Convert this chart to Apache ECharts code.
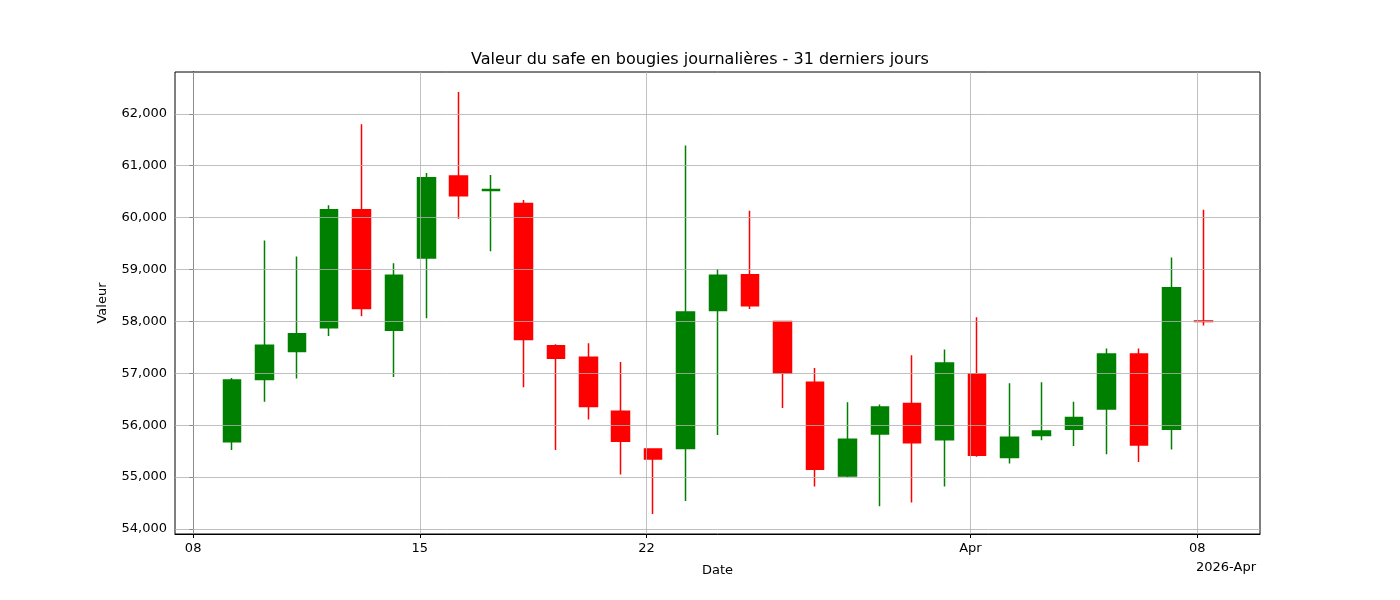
<!DOCTYPE html>
<html>
<head>
<meta charset="utf-8">
<script src="https://cdn.jsdelivr.net/npm/echarts@6/dist/echarts.min.js"></script>
<style>html,body{margin:0;background:#fff}</style>
</head>
<body>
<div id="chart" style="width:1400px;height:600px"></div>
<script>
// day offset from 2026-03-08 (candles sit ~0.2 day after midnight)
const days = [1,2,3,4,5,6,7,8,9,10,11,12,13,14,15,16,17,18,19,20,21,22,23,24,25,26,27,28,29,30,31];
const opens  = [55680,56880,57420,57880,60150,57830,59220,60800,60520,60270,57530,57310,56270,55540,55550,58210,58900,58000,56830,55020,55830,56420,55720,56990,55380,55800,55920,56310,57370,55920,58010];
const closes = [56870,57540,57760,60150,58250,58890,60770,60420,60540,57650,57290,56360,55690,55350,58180,58890,58300,57000,55150,55730,56350,55660,57200,55420,55770,55890,56150,57370,55620,58650,58000];
const highs  = [56910,59560,59250,60240,61800,59120,60860,62420,60820,60340,57560,57580,57220,55540,61390,59010,60130,58000,57100,56440,56400,57350,57460,58080,56810,56830,56450,57480,57480,59230,60150];
const lows   = [55520,56450,56900,57720,58100,56930,58060,59980,59350,56730,55520,56110,55050,54290,54540,55810,58240,56330,54820,55000,54440,54510,54820,55390,55260,55710,55600,55440,55290,55530,57920];
const xTicks = [0, 7, 14, 24, 31];
const xTickLabels = ['08', '15', '22', 'Apr', '08'];
const yTicks = [54000,55000,56000,57000,58000,59000,60000,61000,62000];

const candles = days.map((d, i) => [d + 0.2, opens[i], closes[i], lows[i], highs[i]]);
const gridLines = xTicks.map(v => ({ xAxis: v })).concat(yTicks.map(v => ({ yAxis: v })));

const chart = echarts.init(document.getElementById('chart'));
chart.setOption({
  animation: false,
  textStyle: { fontFamily: 'DejaVu Sans' },
  title: { text: 'Valeur du safe en bougies journalières - 31 derniers jours', left: 'center', top: 47,
    textStyle: { fontSize: 16, fontWeight: 'normal', color: '#000' } },
  grid: { left: 175, right: 140, top: 72, bottom: 66, show: true, borderColor: '#000', borderWidth: 1 },
  xAxis: {
    type: 'value', min: -0.56, max: 32.94, name: 'Date', nameLocation: 'middle', nameGap: 30,
    nameTextStyle: { fontSize: 13, color: '#000' },
    axisLine: { onZero: false, lineStyle: { color: '#000' } },
    splitLine: { show: false },
    axisTick: { customValues: xTicks, length: 4, inside: false, lineStyle: { color: '#000' } },
    axisLabel: { customValues: xTicks, fontSize: 13, color: '#000',
      formatter: v => xTickLabels[xTicks.indexOf(Math.round(v))] || '' }
  },
  yAxis: {
    type: 'value', min: 53904, max: 62805, name: 'Valeur', nameLocation: 'middle', nameGap: 66,
    nameTextStyle: { fontSize: 13, color: '#000' },
    axisLine: { show: true, lineStyle: { color: '#000' } },
    splitLine: { show: false },
    axisTick: { show: true, customValues: yTicks, length: 4, lineStyle: { color: '#000' } },
    axisLabel: { customValues: yTicks, fontSize: 13, color: '#000', showMinLabel: true, showMaxLabel: true }
  },
  graphic: [{ type: 'text', left: 1196, top: 561, style: { text: '2026-Apr', fontSize: 13, fill: '#000', fontFamily: 'DejaVu Sans' } }],
  series: [{
    type: 'candlestick', data: candles, barWidth: 18,
    encode: { x: 0, y: [1, 2, 3, 4] },
    itemStyle: { color: 'green', color0: 'red', borderColor: 'green', borderColor0: 'red', borderWidth: 1.5 },
    markLine: { silent: true, symbol: 'none', label: { show: false }, animation: false,
      lineStyle: { color: '#b0b0b0', type: 'solid', width: 0.8 }, data: gridLines }
  }]
});
</script>
</body>
</html>
